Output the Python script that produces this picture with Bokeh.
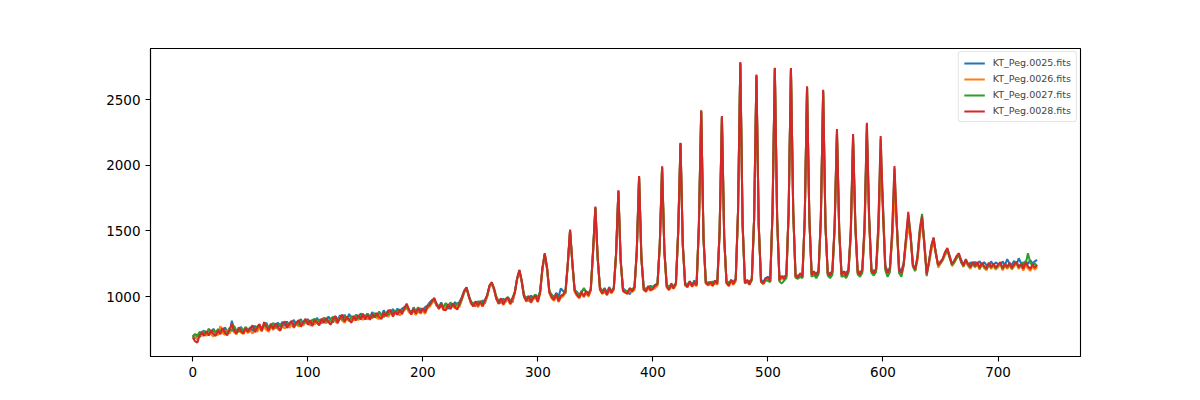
from bokeh.plotting import figure
from bokeh.models import Range1d, FixedTicker, Legend, LegendItem
from bokeh.embed import file_html
from bokeh.resources import INLINE

labels = ["KT_Peg.0025.fits", "KT_Peg.0026.fits", "KT_Peg.0027.fits", "KT_Peg.0028.fits"]
colors = ["#1f77b4", "#ff7f0e", "#2ca02c", "#d62728"]

x_index = list(range(0, 736, 2))

s0025 = [
705,680,712,688,730,740,705,745,718,755,725,710,760,728,765,732,720,815,752,732,748,768,728,760,742,
765,735,778,748,782,752,790,800,758,792,770,760,802,772,808,778,810,768,798,822,780,808,828,785,815,
828,790,822,798,838,812,795,840,810,848,820,802,852,822,858,825,862,828,868,832,822,862,835,872,838,
848,870,835,882,850,838,885,855,895,858,898,865,905,870,910,875,908,920,930,895,875,918,888,878,910,
895,920,930,955,975,968,930,918,955,915,945,905,950,922,958,928,962,995,1045,1065,998,945,952,925,965,
938,972,948,1005,1080,1100,1048,982,972,950,985,958,995,968,955,1035,1135,1195,1108,995,992,965,1008,982,1012,
990,1040,1210,1320,1210,1032,1015,990,1028,998,1062,1042,1022,1240,1500,1250,1040,1035,1010,1042,1052,1038,1025,1050,1340,
1675,1290,1072,1040,1065,1030,1072,1040,1055,1320,1800,1270,1062,1048,1035,1018,1055,1070,1340,1910,1290,1075,1050,1065,1082,
1072,1090,1098,1390,1985,1340,1095,1065,1100,1075,1092,1490,2165,1390,1105,1092,1110,1085,1122,1092,1540,2410,1440,1098,1110,
1092,1115,1098,1125,1490,2365,1440,1098,1110,1112,1115,1135,1640,2775,1540,1125,1108,1118,1122,1590,2680,1540,1128,1112,1140,
1150,1135,1640,2735,1590,1140,1140,1155,1150,1640,2730,1640,1165,1160,1155,1165,1590,2590,1590,1180,1175,1180,1185,1590,2560,
1540,1175,1180,1185,1520,2240,1480,1180,1175,1185,1195,1460,2190,1520,1200,1185,1195,1500,2250,1580,1210,1195,1200,1480,2050,
1700,1240,1190,1220,1450,1850,1560,1220,1190,1260,1420,1560,1470,1250,1200,1290,1480,1590,1400,1180,1260,1370,1430,1330,1230,
1268,1285,1330,1360,1310,1242,1270,1300,1320,1278,1248,1275,1236,1260,1232,1265,1242,1270,1236,1262,1240,1228,1268,1238,1260,
1248,1232,1268,1238,1285,1252,1242,1272,1236,1292,1255,1238,1270,1248,1278,1252,1268,1280,
]

s0026 = [
708,698,672,718,698,728,700,752,712,695,732,705,775,722,708,742,718,748,728,712,752,725,715,745,722,
742,718,755,730,762,738,772,745,732,770,745,778,752,740,775,755,788,762,785,762,798,770,795,778,802,
805,778,810,785,818,790,808,828,795,822,805,835,808,795,845,815,800,835,810,840,815,848,820,842,822,
850,825,855,832,862,838,828,868,840,870,845,875,850,872,882,855,885,895,912,880,865,888,858,895,870,
892,868,910,922,950,970,935,910,932,898,925,942,905,930,910,942,920,978,1030,1060,1002,945,925,952,918,
952,925,958,1000,1070,1095,1052,980,945,972,935,962,975,940,970,1025,1130,1190,1112,1000,960,985,952,980,990,
958,1020,1210,1320,1215,1025,985,968,1005,958,990,1000,1025,1240,1500,1250,1035,1005,988,1020,995,1025,998,1045,1340,
1670,1290,1050,1020,1035,1010,1040,1025,1050,1320,1795,1270,1040,1030,1020,1045,1035,1050,1340,1905,1290,1050,1035,1060,1045,
1055,1065,1080,1390,1980,1340,1070,1050,1075,1060,1085,1490,2160,1390,1085,1070,1100,1075,1090,1080,1540,2405,1440,1100,1085,
1095,1080,1105,1090,1490,2360,1440,1100,1080,1110,1090,1115,1640,2770,1540,1100,1110,1090,1125,1590,2675,1540,1110,1095,1120,
1130,1115,1640,2730,1590,1120,1140,1130,1150,1640,2725,1640,1150,1140,1160,1145,1590,2585,1590,1160,1175,1155,1180,1590,2555,
1540,1170,1155,1180,1520,2230,1480,1160,1175,1155,1190,1460,2170,1520,1180,1165,1190,1480,2180,1560,1190,1175,1195,1470,2000,
1680,1220,1165,1200,1430,1780,1540,1190,1170,1240,1400,1520,1460,1230,1195,1280,1460,1560,1420,1180,1250,1350,1410,1340,1220,
1250,1275,1315,1345,1305,1232,1258,1290,1310,1268,1225,1270,1232,1210,1255,1220,1245,1205,1245,1215,1200,1240,1210,1235,1205,
1222,1245,1200,1235,1210,1240,1205,1230,1250,1210,1235,1198,1240,1215,1195,1230,1205,1225,
]

s0027 = [
692,715,698,732,712,738,718,755,722,742,725,752,728,758,735,722,760,738,775,740,730,762,742,768,745,
752,778,745,772,785,755,778,792,762,785,798,770,762,792,775,802,778,795,812,780,805,785,815,790,808,
815,790,822,830,800,825,805,835,815,802,832,845,818,810,840,822,850,832,820,852,830,860,835,855,865,
845,870,848,840,875,850,880,858,850,882,860,890,865,895,872,902,878,905,925,898,882,908,890,918,892,
908,890,922,942,965,978,945,925,945,920,950,925,955,930,925,952,938,982,1035,1068,1005,962,942,962,945,
965,942,972,1008,1082,1105,1060,998,962,985,958,982,995,962,990,1035,1138,1200,1122,1012,988,1005,972,1000,1015,
985,1035,1215,1325,1218,1045,1010,1000,1015,985,1005,1015,1035,1245,1505,1255,1055,1030,1010,1030,1065,1035,1025,1055,1345,
1680,1295,1065,1040,1055,1030,1055,1045,1065,1325,1805,1275,1055,1045,1040,1060,1055,1068,1345,1912,1295,1065,1055,1075,1065,
1075,1080,1095,1395,1988,1345,1085,1070,1090,1080,1100,1495,2168,1395,1100,1085,1115,1095,1105,1098,1545,2415,1445,1115,1100,
1110,1098,1120,1108,1495,2370,1445,1115,1098,1125,1108,1130,1645,2780,1545,1105,1115,1095,1130,1595,2685,1545,1115,1100,1125,
1120,1110,1645,2740,1595,1115,1100,1120,1140,1645,2735,1645,1145,1135,1150,1140,1595,2595,1595,1150,1165,1140,1170,1595,2570,
1545,1160,1140,1165,1535,2265,1495,1150,1160,1140,1180,1490,2225,1545,1170,1150,1180,1540,2310,1595,1180,1160,1185,1540,2200,
1660,1200,1150,1185,1490,1975,1560,1180,1150,1235,1440,1620,1480,1230,1195,1310,1520,1630,1400,1155,1260,1390,1445,1330,1235,
1255,1282,1330,1355,1292,1238,1262,1295,1320,1258,1232,1275,1242,1222,1260,1230,1255,1215,1250,1225,1210,1250,1220,1245,1215,
1238,1255,1210,1245,1220,1250,1215,1245,1260,1220,1245,1262,1245,1330,1258,1236,1252,1232,
]

s0028 = [
690,660,648,705,725,700,735,702,745,715,700,742,712,760,722,705,748,790,740,718,765,735,718,758,730,
755,780,728,760,790,735,805,770,742,785,752,795,772,740,790,810,760,795,815,765,800,820,770,805,830,
785,820,775,825,800,780,832,798,838,805,785,830,848,800,835,862,808,848,822,800,852,818,860,825,868,
825,860,822,868,840,875,845,828,878,850,888,898,848,885,860,902,865,915,945,900,862,905,870,912,875,
910,880,925,935,965,990,940,905,945,900,895,940,905,948,918,900,950,990,1042,1071,1005,950,925,962,930,
965,925,972,1012,1085,1109,1058,980,945,985,940,975,992,945,985,1032,1140,1203,1118,1000,965,1002,955,990,1005,
960,1035,1220,1330,1222,1035,995,975,1022,965,1005,1015,1040,1250,1511,1262,1045,1012,990,1035,1002,1042,1008,1055,1350,
1686,1302,1055,1022,1058,1012,1062,1028,1065,1330,1809,1282,1045,1030,1022,1065,1038,1068,1350,1918,1302,1052,1040,1080,1048,
1060,1085,1095,1400,1992,1352,1075,1050,1092,1062,1102,1500,2172,1402,1090,1072,1118,1078,1108,1085,1550,2419,1452,1105,1088,
1112,1082,1122,1095,1500,2376,1452,1105,1082,1128,1095,1132,1650,2787,1552,1102,1128,1092,1140,1600,2691,1552,1115,1098,1138,
1145,1118,1650,2744,1602,1125,1158,1135,1168,1650,2741,1652,1155,1142,1178,1150,1600,2602,1602,1165,1192,1160,1198,1600,2576,
1552,1175,1160,1198,1550,2276,1502,1165,1192,1158,1208,1500,2238,1552,1185,1168,1208,1550,2324,1602,1195,1178,1212,1550,2223,
1650,1230,1180,1210,1500,1994,1550,1200,1180,1250,1450,1645,1450,1240,1210,1300,1500,1610,1380,1170,1270,1380,1450,1320,1240,
1260,1290,1340,1370,1300,1248,1275,1310,1330,1268,1235,1285,1248,1225,1265,1235,1262,1218,1258,1230,1215,1258,1225,1252,1220,
1242,1262,1215,1250,1225,1258,1218,1245,1265,1225,1250,1212,1258,1232,1210,1245,1220,1238,
]

series = [s0025, s0026, s0027, s0028]
for s in series:
    assert len(s) == len(x_index), (len(s), len(x_index))

p = figure(width=1200, height=400, output_backend="svg", toolbar_location=None,
           x_range=Range1d(-36.7, 771.7), y_range=Range1d(543, 2890),
           min_border_left=150, min_border_right=120, min_border_top=48, min_border_bottom=44)

items = []
for s, c, lab in zip(series, colors, labels):
    r = p.line(x_index, s, line_color=c, line_width=2.05)
    items.append(LegendItem(label=lab, renderers=[r]))

p.xgrid.visible = False
p.ygrid.visible = False
p.outline_line_color = "black"
p.outline_line_width = 1.1
p.background_fill_color = "white"
p.border_fill_color = "white"

p.xaxis.ticker = FixedTicker(ticks=[0, 100, 200, 300, 400, 500, 600, 700])
p.yaxis.ticker = FixedTicker(ticks=[1000, 1500, 2000, 2500])
for ax in (p.xaxis, p.yaxis):
    ax.axis_line_color = "black"
    ax.axis_line_width = 1.1
    ax.major_tick_line_color = "black"
    ax.major_tick_line_width = 1.1
    ax.major_tick_out = 5
    ax.major_tick_in = 0
    ax.minor_tick_line_color = None
    ax.major_label_text_font = "DejaVu Sans"
    ax.major_label_text_font_size = "13.5px"
    ax.major_label_text_color = "black"
    ax.major_label_standoff = 5

legend = Legend(items=items, location="top_right")
legend.label_text_font = "DejaVu Sans"
legend.label_text_font_size = "9.5px"
legend.glyph_width = 21
legend.glyph_height = 10
legend.label_height = 10
legend.label_standoff = 8
legend.spacing = 5
legend.padding = 5
legend.margin = 3
legend.border_line_color = "#cccccc"
legend.border_line_width = 1
legend.border_radius = 3
legend.background_fill_color = "white"
legend.background_fill_alpha = 0.8
p.add_layout(legend)

open("out.html", "w").write(file_html(p, INLINE))
